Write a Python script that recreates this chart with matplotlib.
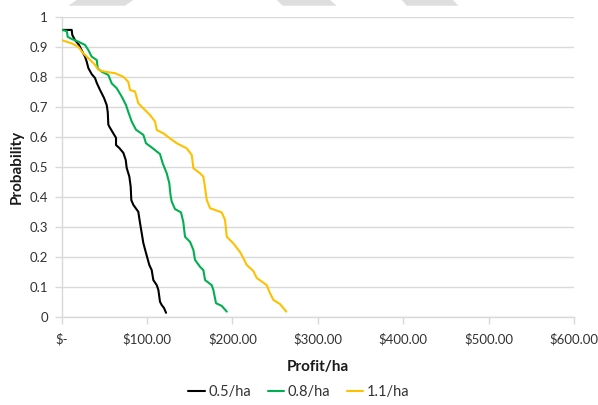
import matplotlib
matplotlib.use("Agg")
import matplotlib.pyplot as plt
from matplotlib.patches import Polygon
from matplotlib.ticker import FuncFormatter, MultipleLocator

plt.rcParams["font.family"] = ["Lato", "DejaVu Sans"]

# Cumulative probability curves: profit per hectare vs probability of exceeding it
profit_05 = [0.0, 11.7, 12.4, 15.6, 20.3, 24.1, 27.3, 29.3, 31.2, 35.1, 39.0, 41.0,
             44.9, 49.5, 52.7, 53.9, 54.6, 55.8, 60.4, 63.6, 63.6, 67.5, 72.2, 75.0,
             76.1, 79.2, 80.8, 81.5, 83.9, 89.7, 91.7, 93.7, 95.6, 98.7, 102.6, 105.4,
             107.3, 111.3, 113.2, 115.1, 117.1, 119.8, 122.2]
prob_05 = [0.956, 0.956, 0.939, 0.922, 0.906, 0.884, 0.867, 0.850, 0.829, 0.809, 0.796,
           0.780, 0.756, 0.730, 0.706, 0.683, 0.641, 0.634, 0.612, 0.597, 0.573, 0.563,
           0.547, 0.523, 0.497, 0.468, 0.434, 0.390, 0.374, 0.351, 0.314, 0.280, 0.247,
           0.214, 0.174, 0.157, 0.124, 0.107, 0.091, 0.052, 0.041, 0.031, 0.015]

profit_08 = [0.0, 5.9, 7.0, 11.7, 19.4, 27.3, 31.2, 35.1, 41.0, 42.2, 46.9, 54.6, 58.6,
             64.4, 70.3, 75.3, 78.0, 82.0, 87.0, 95.6, 98.7, 105.4, 115.1, 118.3, 123.0,
             126.0, 127.4, 128.8, 132.7, 139.7, 142.4, 144.4, 150.3, 154.2, 156.1, 162.0,
             165.9, 167.9, 175.7, 177.6, 180.7, 187.4, 193.3]
prob_08 = [0.956, 0.952, 0.933, 0.926, 0.917, 0.906, 0.889, 0.867, 0.856, 0.828, 0.817,
           0.806, 0.778, 0.762, 0.734, 0.706, 0.683, 0.651, 0.624, 0.607, 0.579, 0.565,
           0.543, 0.512, 0.479, 0.446, 0.407, 0.385, 0.360, 0.349, 0.317, 0.268, 0.251,
           0.224, 0.191, 0.168, 0.157, 0.124, 0.107, 0.091, 0.047, 0.038, 0.019]

profit_11 = [0.0, 11.7, 19.4, 25.3, 31.2, 39.0, 42.9, 50.7, 62.4, 72.2, 78.0, 80.0, 85.9,
             89.7, 95.6, 103.4, 109.3, 111.3, 119.0, 126.9, 134.7, 146.4, 152.3, 154.2,
             162.0, 165.9, 167.9, 169.9, 173.7, 187.4, 191.3, 193.3, 201.0, 208.9, 212.7,
             216.7, 224.4, 228.4, 240.1, 244.0, 247.9, 255.7, 263.0]
prob_11 = [0.922, 0.911, 0.900, 0.878, 0.862, 0.840, 0.823, 0.817, 0.812, 0.800, 0.783,
           0.756, 0.751, 0.712, 0.695, 0.673, 0.651, 0.623, 0.612, 0.595, 0.579, 0.562,
           0.540, 0.496, 0.479, 0.468, 0.430, 0.390, 0.363, 0.349, 0.324, 0.268, 0.246,
           0.217, 0.197, 0.174, 0.154, 0.131, 0.107, 0.080, 0.058, 0.044, 0.019]

series_labels = ["0.5/ha", "0.8/ha", "1.1/ha"]
series_colors = ["#000000", "#00B050", "#FFC000"]

x_max = 600
y_max = 1

fig = plt.figure(figsize=(5.98, 4.05), dpi=100)
ax = fig.add_axes([0.1032, 0.2165, 0.8567, 0.7423])

for xs, ys, lab, col in zip([profit_05, profit_08, profit_11],
                            [prob_05, prob_08, prob_11],
                            series_labels, series_colors):
    ax.plot(xs, ys, color=col, lw=1.5, label=lab,
            solid_joinstyle="round", solid_capstyle="round", zorder=3)

ax.set_xlim(0, x_max)
ax.set_ylim(0, y_max)
ax.xaxis.set_major_locator(MultipleLocator(100))
ax.yaxis.set_major_locator(MultipleLocator(0.1))


def money(v, _pos):
    return "$-" if abs(v) < 1e-9 else f"${v:,.2f}"


def prob(v, _pos):
    s = f"{v:.1f}"
    return "0" if s == "0.0" else ("1" if s == "1.0" else s)


ax.xaxis.set_major_formatter(FuncFormatter(money))
ax.yaxis.set_major_formatter(FuncFormatter(prob))

grid_col = "#d9d9d9"
ax.grid(axis="y", color=grid_col, lw=1.0, zorder=0)
ax.set_axisbelow(True)
for side in ("top", "right"):
    ax.spines[side].set_visible(False)
for side in ("left", "bottom"):
    ax.spines[side].set_color(grid_col)
    ax.spines[side].set_linewidth(1.0)

ax.tick_params(axis="both", direction="out", length=5, width=1.0,
               color=grid_col, labelcolor="#333333", labelsize=9.5)
ax.tick_params(axis="x", pad=6)
ax.tick_params(axis="y", pad=5)

ax.set_xlabel("Profit/ha", fontsize=11, fontweight="bold", color="#1a1a1a", labelpad=11)
ax.set_ylabel("Probability", fontsize=11, fontweight="bold", color="#1a1a1a", labelpad=4)

leg = fig.legend(loc="center", bbox_to_anchor=(0.5, 0.033), ncol=3, frameon=False,
                 fontsize=10.5, handlelength=1.15, handletextpad=0.25,
                 columnspacing=1.1)
for t in leg.get_texts():
    t.set_color("#333333")

# light grey header bands along the top edge
band_col = "#dedede"
H = 405.0
W = 598.0
bands = [
    [(76.7, 0), (133.3, 0), (125.0, 5.7), (68.3, 5.7)],
    [(276.7, 0), (330.0, 0), (336.7, 5.7), (282.7, 5.7)],
    [(401.7, 0), (453.0, 0), (458.3, 5.7), (406.7, 5.7)],
]
for pts in bands:
    fig.patches.append(Polygon([(px / W, 1 - py / H) for px, py in pts],
                               closed=True, transform=fig.transFigure,
                               facecolor=band_col, edgecolor="none"))

fig.savefig("out.png", dpi=100)
